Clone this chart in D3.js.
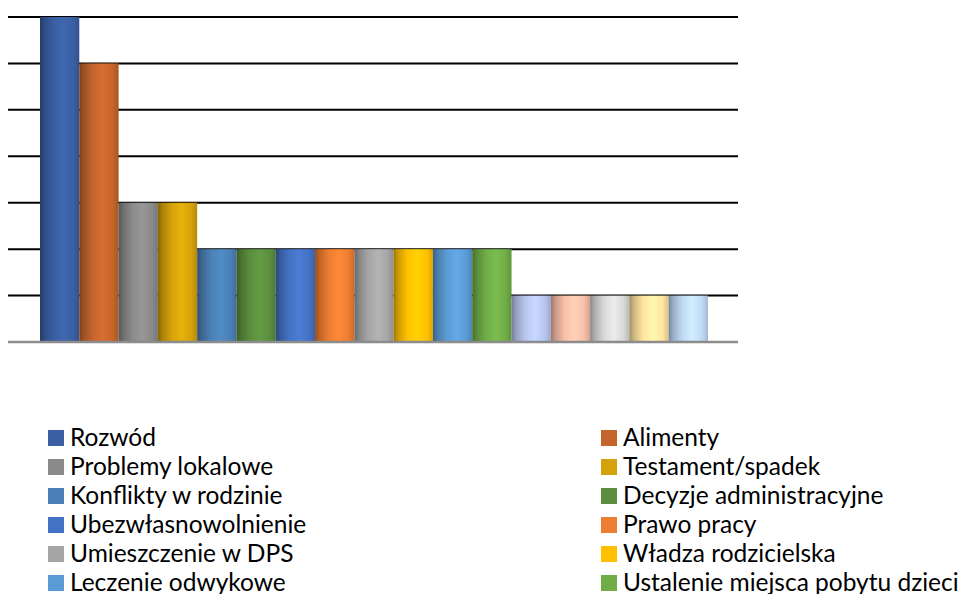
<!DOCTYPE html>
<html><head><meta charset="utf-8">
<script src="https://cdn.jsdelivr.net/npm/d3@7"></script>
<style>html,body{margin:0;padding:0;background:#fff;overflow:hidden}</style>
</head><body>
<script>
const categories = ["Rozwód","Alimenty","Problemy lokalowe","Testament/spadek","Konflikty w rodzinie","Decyzje administracyjne","Ubezwłasnowolnienie","Prawo pracy","Umieszczenie w DPS","Władza rodzicielska","Leczenie odwykowe","Ustalenie miejsca pobytu dzieci","Kategoria 13","Kategoria 14","Kategoria 15","Kategoria 16","Kategoria 17"];
const values = [7,6,3,3,2,2,2,2,2,2,2,2,1,1,1,1,1];
const colors = ["#3A5FA2","#C5652C","#8A8A8A","#D4A20A","#4A80B5","#5B8E3E","#4472C4","#ED7D31","#A5A5A5","#FFC000","#5B9BD5","#70AD47","#B7C6EE","#F9BFA8","#D8D8D8","#FFE4A0","#BFD9F5"];
const yTicks = [0,1,2,3,4,5,6,7];

const W = 965, H = 594;
const svg = d3.select("body").append("svg").attr("width", W).attr("height", H);
const defs = svg.append("defs");

const gridX0 = 8, gridX1 = 738;
const y = d3.scaleLinear().domain([0,7]).range([342,17]);
const x = d3.scaleBand().domain(categories).range([40,708]).padding(0);

// gridlines
svg.append("g").selectAll("line").data(yTicks.filter(t=>t>0)).join("line")
  .attr("x1", gridX0).attr("x2", gridX1)
  .attr("y1", d=>y(d)).attr("y2", d=>y(d))
  .attr("stroke", "#000").attr("stroke-width", 2);

// gradients
categories.forEach((c,i)=>{
  const base = d3.color(colors[i]);
  const g = defs.append("linearGradient").attr("id","g"+i).attr("x1","0").attr("x2","1").attr("y1","0").attr("y2","0");
  const stops = [[0, base.darker(1.3)],[0.12, base.darker(0.6)],[0.35, base],[0.6, base.brighter(0.25)],[0.85, base],[1, base.darker(0.45)]];
  stops.forEach(s=>g.append("stop").attr("offset", s[0]).attr("stop-color", s[1].formatHex()));
});

// bars
svg.append("g").selectAll("rect").data(categories).join("rect")
  .attr("x", d=>x(d)).attr("width", x.bandwidth())
  .attr("y", (d,i)=>y(values[i])).attr("height", (d,i)=>y(0)-y(values[i]))
  .attr("fill", (d,i)=>`url(#g${i})`);

// baseline
svg.append("line").attr("x1", gridX0).attr("x2", gridX1).attr("y1", y(0)).attr("y2", y(0))
  .attr("stroke", "#8C8C8C").attr("stroke-width", 2.5);

// legend (entries below the visible area are not drawn)
const leg = svg.append("g").attr("font-family", "Lato, sans-serif").attr("font-size", 24.5).attr("fill", "#000");
categories.forEach((c,i)=>{
  const col = i % 2, row = Math.floor(i/2);
  const lx = col === 0 ? 48 : 601;
  const base = 446 + row*29;
  if (base - 18 > H) return;
  leg.append("rect").attr("x", lx).attr("y", base-16).attr("width", 16).attr("height", 16).attr("fill", colors[i]);
  leg.append("text").attr("x", lx+22).attr("y", base).text(c);
});
</script>
</body></html>
